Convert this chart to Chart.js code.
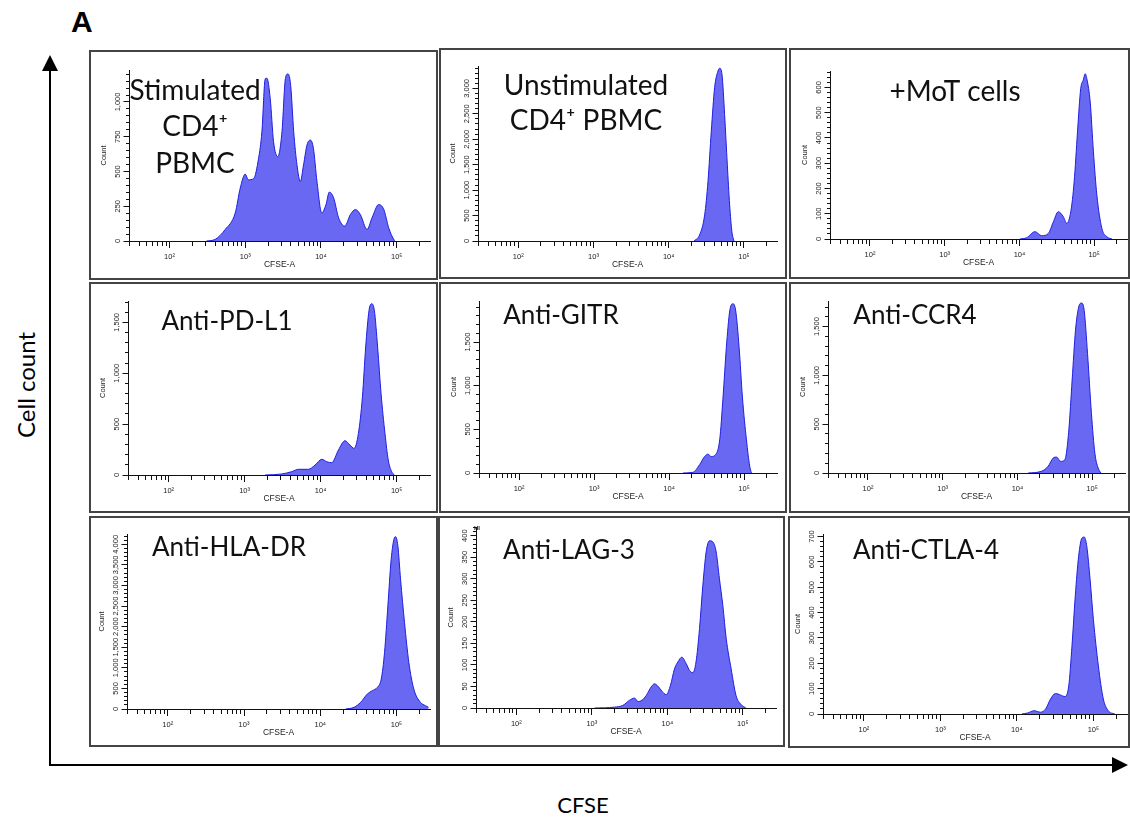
<!DOCTYPE html>
<html>
<head>
<meta charset="utf-8">
<script src="https://cdn.jsdelivr.net/npm/chart.js@4.4.1/dist/chart.umd.min.js"></script>
<style>
html,body{margin:0;padding:0;background:#fff;}
#fig{position:relative;width:1130px;height:822px;overflow:hidden;background:#fff;}
.panel{position:absolute;}
.panel canvas{position:absolute;left:0;top:0;}
.frame{position:absolute;border:2px solid #444;box-sizing:border-box;pointer-events:none;}
svg{position:absolute;left:0;top:0;}
</style>
</head>
<body>
<div id="fig">
<svg width="1130" height="822" id="outer">
  <line x1="50" y1="766" x2="50" y2="68" stroke="#000" stroke-width="2"/>
  <polygon points="50,55 42,71 58,71" fill="#000"/>
  <line x1="49" y1="765" x2="1114" y2="765" stroke="#000" stroke-width="2"/>
  <polygon points="1128,765 1112,757 1112,773" fill="#000"/>
  <text x="71" y="32" font-family="Liberation Sans, Arial, sans-serif" font-weight="bold" font-size="30" fill="#000">A</text>
  <text transform="translate(35,385) rotate(-90)" text-anchor="middle" font-family="Lato, sans-serif" font-size="24" fill="#000">Cell count</text>
  <text x="583" y="813" text-anchor="middle" font-family="Lato, sans-serif" font-size="22" fill="#000">CFSE</text>
</svg>
</div>
<script>
// ---------- tick labels / axis ranges ----------
const decadeValues = [100, 1000, 10000, 100000];
const decadeLabels = ['10²', '10³', '10⁴', '10⁵'];
const cfseMin = 29.2;
const cfseMax = 275000;

// ---------- series (CFSE-A value, Count) ----------
const stimulatedCfse = [309, 402, 544, 738, 859, 1000, 1096, 1288, 1500, 1660, 1837, 1932, 2138, 2366, 2692, 3055, 3388, 3664, 3981, 4365, 4819, 5333, 5888, 6531, 7244, 7943, 8851, 10233, 11641, 12882, 14689, 17100, 20559, 24434, 28445, 33113, 40551, 47206, 57810, 67608, 78343, 91201, 95499];
const stimulatedCount = [0, 12, 83, 202, 381, 481, 440, 448, 595, 786, 1167, 1171, 1024, 714, 607, 786, 1167, 1202, 1119, 786, 548, 429, 548, 690, 726, 667, 429, 202, 262, 352, 310, 167, 107, 190, 226, 190, 83, 167, 262, 226, 95, 12, 0];

const unstimulatedCfse = [21677, 25704, 30061, 33266, 36813, 40738, 45186, 47534, 51050, 55335, 60117, 64565, 69183, 73621];
const unstimulatedCount = [0, 118, 513, 1171, 2158, 3013, 3342, 3395, 3276, 2487, 1500, 710, 184, 0];

const motCfse = [10139, 12474, 16144, 19815, 24378, 28445, 33113, 38726, 42954, 48641, 53951, 59840, 66069, 71614, 75858, 80353, 88512, 97724, 108643, 126765, 147911, 172982];
const motCount = [0, 5, 29, 13, 22, 68, 108, 88, 62, 108, 226, 424, 595, 630, 654, 630, 542, 345, 174, 42, 9, 0];

const pdl1Cfse = [1862, 3090, 4169, 5105, 6918, 8453, 10351, 12023, 13996, 17140, 20893, 24378, 27542, 31405, 35481, 39174, 43351, 46989, 50933, 56234, 62373, 70307, 77625, 86099, 93325];
const pdl1Count = [0, 10, 33, 56, 56, 98, 154, 131, 121, 245, 337, 294, 261, 408, 768, 1258, 1618, 1683, 1618, 1258, 801, 408, 147, 33, 0];

const gitrCfse = [15311, 20797, 25527, 29785, 33037, 36559, 41400, 47315, 52481, 58076, 64417, 71285, 77446, 85901, 95060, 107647, 119124, 125314];
const gitrCount = [0, 8, 95, 189, 216, 189, 208, 379, 871, 1439, 1856, 1939, 1856, 1439, 871, 379, 76, 0];

const ccr4Cfse = [13900, 20893, 25704, 30061, 33266, 38019, 43053, 48753, 53951, 59840, 66069, 71945, 78163, 86696, 97724, 108643, 120226, 130617];
const ccr4Count = [0, 17, 68, 153, 163, 119, 136, 442, 952, 1463, 1701, 1741, 1667, 1224, 612, 204, 51, 0];

const hladrCfse = [21528, 27669, 33884, 41400, 48084, 55976, 63096, 69663, 77090, 85114, 92470, 97051, 104232, 112980, 127350, 145211, 168655, 206063, 239883, 263027];
const hladrCount = [0, 40, 162, 364, 444, 525, 727, 1374, 2505, 3636, 4121, 4186, 3960, 3152, 2101, 1131, 485, 162, 81, 40];

const lag3Cfse = [1089, 1995, 2570, 3162, 3681, 4074, 4603, 5248, 6109, 6761, 7656, 8472, 9660, 11015, 12445, 13804, 15560, 17783, 19679, 21777, 23988, 26669, 29512, 32659, 36141, 39811, 44361, 48978, 54325, 60256, 69984, 81283, 94842, 109648];
const lag3Count = [0, 2, 6, 18, 23, 15, 18, 29, 49, 56, 49, 39, 31, 53, 91, 107, 118, 103, 87, 82, 107, 184, 284, 362, 388, 386, 362, 300, 238, 161, 91, 29, 8, 0];

const ctla4Cfse = [11641, 13804, 16827, 20417, 23768, 27542, 31989, 37154, 42267, 47643, 52481, 57943, 64121, 70795, 75858, 82035, 90573, 100000, 116145, 134896, 156315, 190546];
const ctla4Count = [0, 4, 13, 7, 20, 59, 81, 75, 69, 111, 268, 465, 622, 694, 698, 661, 530, 373, 190, 59, 13, 0];

const panelTitles = [
  ['Stimulated', 'CD4⁺', 'PBMC'],
  ['Unstimulated', 'CD4⁺ PBMC'],
  ['+MoT cells'],
  ['Anti-PD-L1'],
  ['Anti-GITR'],
  ['Anti-CCR4'],
  ['Anti-HLA-DR'],
  ['Anti-LAG-3'],
  ['Anti-CTLA-4']
];
const countMax = [1230, 3440, 665, 1710, 1970, 1762, 4250, 420, 710];
const countMajor = [250, 500, 100, 500, 500, 500, 500, 50, 100];
const countMinor = [50, 100, 20, 100, 100, 100, 100, 10, 20];

const seriesCfse = [stimulatedCfse, unstimulatedCfse, motCfse, pdl1Cfse, gitrCfse, ccr4Cfse, hladrCfse, lag3Cfse, ctla4Cfse];
const seriesCount = [stimulatedCount, unstimulatedCount, motCount, pdl1Count, gitrCount, ccr4Count, hladrCount, lag3Count, ctla4Count];

// ---------- layout (page pixel positions) ----------
const panelLayout = [
  {box: [89, 50, 437, 279],   area: [129, 70, 430, 241],   tx: 195, ty: [100, 136, 173], fs: 28},
  {box: [439, 48, 786, 278],  area: [478, 66, 777, 241],   tx: 586, ty: [95, 130], fs: 28},
  {box: [789, 48, 1129, 278], area: [830, 71, 1127, 239],  tx: 955, ty: [101], fs: 28},
  {box: [89, 282, 437, 512],  area: [128, 301, 430, 475],  tx: 227, ty: [330], fs: 26},
  {box: [439, 282, 786, 512], area: [479, 301, 777, 473],  tx: 561, ty: [324], fs: 26},
  {box: [789, 282, 1129, 512],area: [828, 301, 1125, 473], tx: 915, ty: [324], fs: 26},
  {box: [89, 516, 437, 746],  area: [127, 534, 430, 709],  tx: 229, ty: [556], fs: 26},
  {box: [438, 516, 784, 746], area: [476, 527, 776, 708],  tx: 569, ty: [559], fs: 26},
  {box: [788, 516, 1129, 747],area: [823, 534, 1127, 714], tx: 926, ty: [559], fs: 26}
];

const Y_AXIS_W = 30, X_AXIS_H = 29;
const TICK_FONT = {family: 'Liberation Sans', size: 7.5};
const fill = 'rgb(104,104,242)';
const edge = 'rgb(30,30,224)';

function fmt(v) { return Math.round(v).toString().replace(/\B(?=(\d{3})+(?!\d))/g, ','); }

// all CFSE tick positions (decades + 2..9 minors)
const cfseTicks = [];
for (let e = 1; e <= 5; e++) {
  for (let m = 1; m <= 9; m++) {
    const v = m * Math.pow(10, e);
    if (v > cfseMin && v < cfseMax) cfseTicks.push(v);
  }
}

const measureCtx = document.createElement('canvas').getContext('2d');
measureCtx.font = '7.5px "Liberation Sans"';

Chart.defaults.font.family = 'Liberation Sans';

const fig = document.getElementById('fig');

panelLayout.forEach((L, i) => {
  const [bl, bt, br, bb] = L.box;
  const [al, at, ar, ab] = L.area;
  const w = br - bl, h = bb - bt;
  const wrap = document.createElement('div');
  wrap.className = 'panel';
  wrap.style.left = bl + 'px'; wrap.style.top = bt + 'px';
  wrap.style.width = w + 'px'; wrap.style.height = h + 'px';
  const cv = document.createElement('canvas');
  cv.width = w; cv.height = h;
  cv.style.width = w + 'px'; cv.style.height = h + 'px';
  wrap.appendChild(cv);
  fig.appendChild(wrap);
  const frame = document.createElement('div');
  frame.className = 'frame';
  frame.style.left = bl + 'px'; frame.style.top = bt + 'px';
  frame.style.width = (w + 1) + 'px'; frame.style.height = (h + 1) + 'px';
  fig.appendChild(frame);

  const yMax = countMax[i], major = countMajor[i], minor = countMinor[i];
  const countTicks = [];
  for (let v = 0; v <= yMax + 1e-9; v += minor) countTicks.push(v);
  const isMajorCount = v => Math.abs(v / major - Math.round(v / major)) < 1e-6;
  const widest = Math.max(...countTicks.filter(isMajorCount).map(v => measureCtx.measureText(fmt(v)).width));
  const yPad = 10.7 - 5.5 - widest / 2;

  const titlePlugin = {
    id: 'panelTitle' + i,
    afterDraw(chart) {
      const ctx = chart.ctx;
      ctx.save();
      ctx.fillStyle = '#111';
      ctx.font = L.fs + 'px Lato';
      ctx.textAlign = 'center';
      ctx.textBaseline = 'alphabetic';
      panelTitles[i].forEach((line, k) => ctx.fillText(line, L.tx - bl, L.ty[k] - bt));
      if (i === 7) {
        ctx.font = 'bold 6px "Liberation Sans"';
        ctx.fillStyle = '#222';
        ctx.fillText('HI', 477 - bl, 530 - bt);
      }
      ctx.restore();
    }
  };

  new Chart(cv, {
    type: 'line',
    data: {
      datasets: [{
        data: seriesCfse[i].map((x, k) => ({x: x, y: seriesCount[i][k]})),
        borderColor: edge,
        backgroundColor: fill,
        borderWidth: 1,
        fill: 'origin',
        pointRadius: 0,
        cubicInterpolationMode: 'monotone'
      }]
    },
    options: {
      responsive: false,
      animation: false,
      devicePixelRatio: 1,
      events: [],
      layout: {padding: {left: al - bl - Y_AXIS_W, top: at - bt, right: br - ar, bottom: bb - ab - X_AXIS_H}},
      plugins: {legend: {display: false}, tooltip: {enabled: false}},
      scales: {
        x: {
          type: 'logarithmic', position: 'bottom', bounds: 'data',
          min: cfseMin, max: cfseMax,
          afterBuildTicks: s => { s.ticks = cfseTicks.map(v => ({value: v})); },
          afterFit: s => { s.height = X_AXIS_H; },
          ticks: {autoSkip: false, minRotation: 0, maxRotation: 0, padding: 4, font: TICK_FONT, color: '#222',
                  callback: v => { const k = decadeValues.indexOf(v); return k >= 0 ? decadeLabels[k] : ''; }},
          grid: {drawOnChartArea: false, tickLength: 7, color: '#111', lineWidth: 1,
                 tickBorderDash: c => decadeValues.indexOf(c.tick.value) >= 0 ? [] : [4, 20]},
          border: {display: true, color: '#111', width: 1},
          title: {display: true, text: 'CFSE-A', font: {family: 'Liberation Sans', size: 8.5}, color: '#222', padding: 0}
        },
        y: {
          type: 'linear', position: 'left', bounds: 'data',
          min: 0, max: yMax,
          afterBuildTicks: s => { s.ticks = countTicks.map(v => ({value: v})); },
          afterFit: s => { s.width = Y_AXIS_W; },
          ticks: {autoSkip: false, minRotation: 90, maxRotation: 90, crossAlign: 'center', padding: yPad,
                  font: TICK_FONT, color: '#222', callback: v => isMajorCount(v) ? fmt(v) : ''},
          grid: {drawOnChartArea: false, tickLength: 5.5, color: '#111', lineWidth: 1,
                 tickBorderDash: c => isMajorCount(c.tick.value) ? [] : [0, 2.5, 10]},
          border: {display: true, color: '#111', width: 1},
          title: {display: true, text: 'Count', font: {family: 'Liberation Sans', size: 7.5}, color: '#222', padding: 0}
        }
      }
    },
    plugins: [titlePlugin]
  });
});
</script>
</body>
</html>
